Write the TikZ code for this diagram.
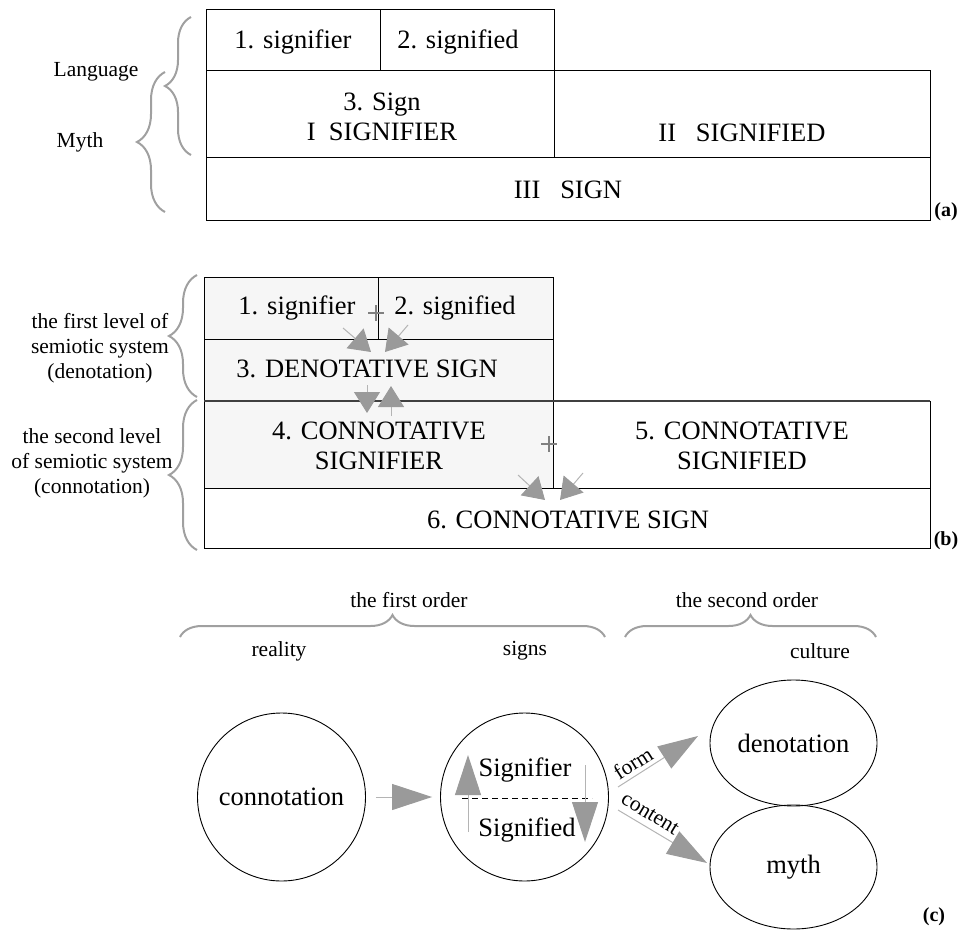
\documentclass[tikz,border=0pt]{standalone}
\usepackage{fontspec}
\setmainfont{Liberation Serif}
\usetikzlibrary{arrows.meta,shapes.geometric,decorations.pathreplacing}

\definecolor{tipgray}{HTML}{9A9A9A}
\definecolor{stemgray}{HTML}{B4B4B4}
\definecolor{bracegray}{HTML}{A0A0A0}
\definecolor{shade}{HTML}{F6F6F6}

\newcommand\boxfont{\fontsize{26.5pt}{30.5pt}\selectfont}
\newcommand\circfont{\fontsize{26.5pt}{30pt}\selectfont}
\newcommand\sidefont{\fontsize{21.5pt}{25pt}\selectfont}
\newcommand\tagfont{\fontsize{20pt}{24pt}\selectfont\bfseries}

\tikzset{
  cell/.style={draw=black, line width=1pt, rectangle, anchor=north west,
    inner sep=0pt, outer sep=0pt},
  shaded/.style={cell, fill=shade},
  boxtext/.style={font=\boxfont, align=center, inner sep=0pt},
  sidetext/.style={font=\sidefont, align=center, inner sep=0pt},
  tagtext/.style={font=\tagfont, inner sep=0pt},
  curly/.style={decorate, decoration={brace, amplitude=#1}, draw=bracegray,
    line width=2pt},
  smallarrow/.style={draw=stemgray, line width=1pt,
    -{Triangle[length=21pt, width=26pt, color=tipgray]}},
  bigarrow/.style={draw=stemgray, line width=1pt,
    -{Triangle[length=40pt, width=26pt, color=tipgray]}},
  plusmark/.style={draw=gray, line width=2pt},
  round/.style={circle, draw=black, line width=0.9pt, inner sep=0pt,
    font=\circfont},
  oval/.style={ellipse, draw=black, line width=0.9pt, inner sep=0pt,
    font=\circfont},
  circtext/.style={font=\circfont, inner sep=0pt},
  edgetext/.style={font=\sidefont, inner sep=0pt},
}

\begin{document}
\begin{tikzpicture}[x=1pt, y=-1pt]
\useasboundingbox (0,0) rectangle (964,931);

% ---------- (a) language and myth ----------
\node[cell, minimum width=174pt, minimum height=61pt] (a1) at (206,10) {};
\node[cell, minimum width=174pt, minimum height=61pt] (a2) at (380,10) {};
\node[cell, minimum width=348pt, minimum height=87pt] (a3) at (206,71) {};
\node[cell, minimum width=376pt, minimum height=87pt] (a4) at (554,71) {};
\node[cell, minimum width=724pt, minimum height=62pt] (a5) at (206,158) {};

\node[boxtext] (a1t) at (293,42) {1. signifier};
\node[boxtext] (a2t) at (458,42) {2. signified};
\node[boxtext] (a3t) at (382,117) {3. Sign\\I\ \ SIGNIFIER};
\node[boxtext] (a4t) at (742,133) {II\ \ \ SIGNIFIED};
\node[boxtext] (a5t) at (568,190) {III\ \ \ SIGN};

\draw[curly=26pt] (191,155) -- (191,17);
\draw[curly=28pt] (165,212) -- (165,72);
\node[sidetext] (lang) at (96,72) {Language};
\node[sidetext] (myth0) at (80,142) {Myth};
\node[tagtext] (taga) at (946,212) {(a)};

% ---------- (b) denotation and connotation ----------
\node[shaded, minimum width=174pt, minimum height=62pt] (b1) at (204,277) {};
\node[shaded, minimum width=175pt, minimum height=62pt] (b2) at (378,277) {};
\node[shaded, minimum width=349pt, minimum height=62pt] (b3) at (204,339) {};
\node[shaded, minimum width=349pt, minimum height=87pt] (b4) at (204,401) {};
\node[cell, minimum width=377pt, minimum height=87pt] (b5) at (553,401) {};
\node[cell, minimum width=726pt, minimum height=60pt] (b6) at (204,488) {};
\draw[line width=1.8pt, black!75] (b4.north west) -- (b5.north east);

\node[boxtext] (b1t) at (297,308) {1. signifier};
\node[boxtext] (b2t) at (455,308) {2. signified};
\node[boxtext] (b3t) at (367,369) {3. DENOTATIVE SIGN};
\node[boxtext] (b4t) at (379,446) {4. CONNOTATIVE\\SIGNIFIER};
\node[boxtext] (b5t) at (742,446) {5. CONNOTATIVE\\SIGNIFIED};
\node[boxtext] (b6t) at (568,520) {6. CONNOTATIVE SIGN};

% plus marks
\draw[plusmark] (368,313) -- (384,313) (376,305) -- (376,321);
\draw[plusmark] (541,444) -- (557,444) (549,436) -- (549,452);

% small arrows between the levels
\coordinate (s1) at (343,328); \coordinate (e1) at (371,352);
\coordinate (s2) at (408,325); \coordinate (e2) at (385,352);
\coordinate (s3) at (367,385); \coordinate (e3) at (367,413);
\coordinate (s4) at (391,416); \coordinate (e4) at (391,386);
\coordinate (s5) at (518,475); \coordinate (e5) at (545,500);
\coordinate (s6) at (583,473); \coordinate (e6) at (560,500);
\draw[smallarrow] (s1) -- (e1);
\draw[smallarrow] (s2) -- (e2);
\draw[smallarrow] (s3) -- (e3);
\draw[smallarrow] (s4) -- (e4);
\draw[smallarrow] (s5) -- (e5);
\draw[smallarrow] (s6) -- (e6);

\draw[curly=28pt] (197,397) -- (197,275);
\draw[curly=28pt] (197,550) -- (197,400);
\node[sidetext] (lvl1) at (100,348) {the first level of\\semiotic system\\(denotation)};
\node[sidetext] (lvl2) at (92,463) {the second level\\of semiotic system\\(connotation)};
\node[tagtext] (tagb) at (946,541) {(b)};

% ---------- (c) orders of signification ----------
\node[sidetext] (ord1) at (409,600) {the first order};
\node[sidetext] (ord2) at (747,600) {the second order};
\draw[curly=22pt] (180,637) -- (605,637);
\draw[curly=22pt] (625,637) -- (876,637);
\node[sidetext] (real) at (279,651) {reality};
\node[sidetext] (sgns) at (525,651) {signs};
\node[sidetext] (cult) at (820,651) {culture};

\node[round, minimum size=168pt] (conn) at (281.5,797) {connotation};
\node[round, minimum size=168pt] (signs) at (524.5,797) {};
\node[oval, minimum width=167pt, minimum height=126pt] (den) at (793.5,743) {denotation};
\node[oval, minimum width=167pt, minimum height=124pt] (mth) at (793.5,867) {myth};

\node[circtext] (sr) at (525,770) {Signifier};
\node[circtext] (sd) at (527,830) {Signified};
\coordinate (d0) at (462,798); \coordinate (d1) at (592,798);
\draw[black, line width=0.8pt, dash pattern=on 6pt off 4pt] (d0) -- (d1);

\draw[bigarrow, shorten <=10pt, shorten >=8pt] (conn) -- (signs);
\coordinate (u0) at (468,832); \coordinate (u1) at (468,755);
\coordinate (w0) at (585,765); \coordinate (w1) at (585,842);
\draw[bigarrow] (u0) -- (u1);
\draw[bigarrow] (w0) -- (w1);

\coordinate (f0) at (618,787); \coordinate (f1) at (698,736);
\coordinate (k0) at (618,810); \coordinate (k1) at (707,863);
\draw[bigarrow] (f0) -- (f1);
\draw[bigarrow] (k0) -- (k1);
\node[edgetext, rotate=32.5] (formlbl) at (633,763) {form};
\node[edgetext, rotate=-31] (contlbl) at (650,814) {content};

\node[tagtext] (tagc) at (934,917) {(c)};
\end{tikzpicture}
\end{document}
